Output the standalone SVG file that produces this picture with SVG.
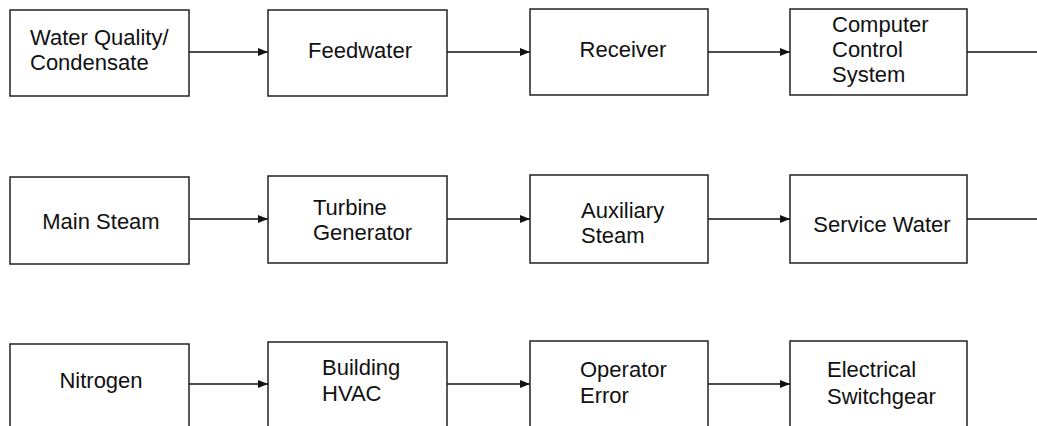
<svg xmlns="http://www.w3.org/2000/svg" width="1037" height="426" viewBox="0 0 1037 426">
<defs>
<style>
.box{fill:#fff;stroke:#222;stroke-width:1.5}
.t{font-family:"Liberation Sans",Arial,sans-serif;font-size:22px;fill:#111}
.c{font-family:"Liberation Sans",Arial,sans-serif;font-size:22px;fill:#111;text-anchor:middle}
.ln{stroke:#111;stroke-width:1.3;fill:none}
.ar{stroke:#111;stroke-width:1.3;fill:none;marker-end:url(#ah)}
</style>
<marker id="ah" markerUnits="userSpaceOnUse" markerWidth="10" markerHeight="8" refX="10" refY="4" orient="auto">
<path d="M0,0 L10,4 L0,8 z" fill="#111"/>
</marker>
</defs>
<rect width="1037" height="426" fill="#fff"/>
<g id="connectors">
<line class="ar" x1="189" y1="52" x2="268" y2="52"/>
<line class="ar" x1="447" y1="52" x2="530" y2="52"/>
<line class="ar" x1="708" y1="52" x2="790" y2="52"/>
<line class="ln" x1="967" y1="52" x2="1037" y2="52"/>
<line class="ar" x1="189" y1="219" x2="268" y2="219"/>
<line class="ar" x1="447" y1="219" x2="530" y2="219"/>
<line class="ar" x1="708" y1="219" x2="790" y2="219"/>
<line class="ln" x1="967" y1="219" x2="1037" y2="219"/>
<line class="ar" x1="189" y1="384" x2="268" y2="384"/>
<line class="ar" x1="447" y1="384" x2="530" y2="384"/>
<line class="ar" x1="708" y1="384" x2="790" y2="384"/>
</g>
<g id="water-quality"><rect class="box" x="10" y="10" width="179" height="86"/><text class="t" x="30" y="45">Water Quality/</text><text class="t" x="30" y="70">Condensate</text></g>
<g id="feedwater"><rect class="box" x="268" y="10" width="179" height="86"/><text class="c" x="360" y="58">Feedwater</text></g>
<g id="receiver"><rect class="box" x="530" y="9" width="178" height="86"/><text class="c" x="623" y="57">Receiver</text></g>
<g id="computer-control"><rect class="box" x="790" y="9" width="177" height="86"/><text class="t" x="832" y="32">Computer</text><text class="t" x="832" y="57">Control</text><text class="t" x="832" y="82">System</text></g>
<g id="main-steam"><rect class="box" x="10" y="177" width="179" height="87"/><text class="c" x="101" y="229">Main Steam</text></g>
<g id="turbine-generator"><rect class="box" x="268" y="176" width="179" height="87"/><text class="t" x="313" y="215">Turbine</text><text class="t" x="313" y="240">Generator</text></g>
<g id="auxiliary-steam"><rect class="box" x="530" y="175" width="178" height="88"/><text class="t" x="581" y="218">Auxiliary</text><text class="t" x="581" y="243">Steam</text></g>
<g id="service-water"><rect class="box" x="790" y="175" width="177" height="88"/><text class="c" x="882" y="232">Service Water</text></g>
<g id="nitrogen"><rect class="box" x="10" y="344" width="179" height="90"/><text class="c" x="101" y="388">Nitrogen</text></g>
<g id="building-hvac"><rect class="box" x="268" y="342" width="179" height="92"/><text class="t" x="322" y="375">Building</text><text class="t" x="322" y="401">HVAC</text></g>
<g id="operator-error"><rect class="box" x="530" y="341" width="178" height="93"/><text class="t" x="580" y="377">Operator</text><text class="t" x="580" y="403">Error</text></g>
<g id="electrical-switchgear"><rect class="box" x="790" y="341" width="177" height="93"/><text class="t" x="827" y="377">Electrical</text><text class="t" x="827" y="404">Switchgear</text></g>
</svg>
